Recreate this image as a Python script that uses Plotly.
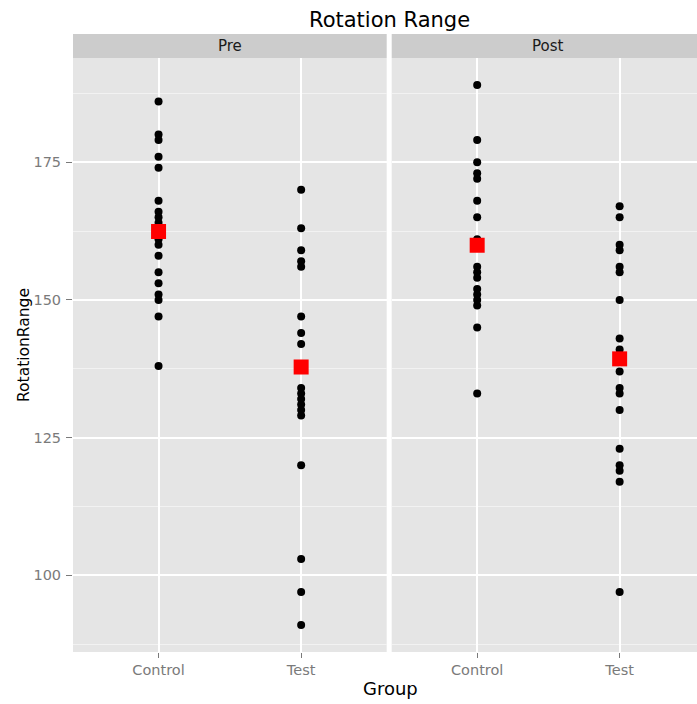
import plotly.graph_objects as go

groups = ["Control", "Test"]

pre_control = [186, 180, 179, 176, 174, 168, 166, 165, 164, 161, 160, 158, 155, 153, 151, 150, 147, 138]
pre_test = [170, 163, 159, 157, 156, 147, 144, 142, 134, 133, 132, 131, 130, 129, 120, 103, 97, 91]
post_control = [189, 179, 175, 173, 172, 168, 165, 161, 156, 155, 154, 152, 151, 150, 149, 145, 133]
post_test = [167, 165, 160, 159, 156, 155, 150, 143, 141, 137, 134, 133, 130, 123, 120, 119, 117, 97]

pre_means = [162.4, 137.8]
post_means = [159.9, 139.3]

FONT = "DejaVu Sans"
GREY = "#7a7a7a"

fig = go.Figure()

def add_panel(ctrl, test, means, xa, ya):
    fig.add_trace(go.Scatter(
        x=["Control"] * len(ctrl) + ["Test"] * len(test), y=ctrl + test,
        mode="markers", marker=dict(color="black", size=8, line=dict(width=0)),
        xaxis=xa, yaxis=ya, showlegend=False, hoverinfo="y"))
    fig.add_trace(go.Scatter(
        x=groups, y=means, mode="markers",
        marker=dict(color="#ff0000", size=15, symbol="square", line=dict(width=0)),
        xaxis=xa, yaxis=ya, showlegend=False, hoverinfo="y"))

add_panel(pre_control, pre_test, pre_means, "x", "y")
add_panel(post_control, post_test, post_means, "x2", "y2")

W = 624.0
L = 73.0
def px(v):
    return (v - L) / W

PH = 618.0
def py(v):
    return (652.0 - v) / PH

ydom = [0, py(58)]
xcommon = dict(type="category", categoryorder="array", categoryarray=groups,
               showgrid=True, gridcolor="white", gridwidth=1.8, zeroline=False,
               ticks="outside", ticklen=5, tickcolor=GREY, tickwidth=1,
               tickfont=dict(family=FONT, size=14.5, color=GREY), showline=False)
ycommon = dict(range=[86.1, 193.9], tickvals=[100, 125, 150, 175],
               showgrid=True, gridcolor="white", gridwidth=1.8, zeroline=False,
               minor=dict(tickvals=[87.5, 112.5, 137.5, 162.5, 187.5], showgrid=True,
                          gridcolor="#f2f2f2", gridwidth=0.8, ticks=""),
               showline=False, domain=ydom)

fig.update_layout(
    width=697, height=704,
    margin=dict(l=73, r=0, t=34, b=52),
    paper_bgcolor="white", plot_bgcolor="#e5e5e5",
    xaxis=dict(domain=[0, px(386.7)], range=[-0.6, 1.6], anchor="y", **xcommon),
    xaxis2=dict(domain=[px(391.7), 1], range=[-0.6, 1.543], anchor="y2", **xcommon),
    yaxis=dict(anchor="x", ticks="outside", ticklen=6, tickcolor=GREY, tickwidth=1,
               tickfont=dict(family=FONT, size=14.5, color=GREY), ticklabelstandoff=2, **ycommon),
    yaxis2=dict(anchor="x2", matches="y", showticklabels=False, ticks="", **ycommon),
)

# facet strips
fig.add_shape(type="rect", xref="paper", yref="paper", x0=0, x1=px(386.7), y0=py(58), y1=1,
              fillcolor="#cccccc", line=dict(width=0), layer="below")
fig.add_shape(type="rect", xref="paper", yref="paper", x0=px(391.7), x1=1, y0=py(58), y1=1,
              fillcolor="#cccccc", line=dict(width=0), layer="below")

ann = [
    dict(text="Pre", x=px(230), y=py(46), size=15, color="#1a1a1a"),
    dict(text="Post", x=px(548.4), y=py(46), size=15, color="#1a1a1a"),
    dict(text="Rotation Range", x=px(389), y=py(20), size=21, color="black"),
    dict(text="Group", x=px(390), y=py(689), size=18, color="black"),
]
for a in ann:
    fig.add_annotation(text=a["text"], xref="paper", yref="paper", x=a["x"], y=a["y"],
                       xanchor="center", yanchor="middle", showarrow=False,
                       font=dict(family=FONT, size=a["size"], color=a["color"]))

fig.add_annotation(text="RotationRange", xref="paper", yref="paper", x=px(24), y=py(345),
                   xanchor="center", yanchor="middle", showarrow=False, textangle=-90,
                   font=dict(family=FONT, size=15.5, color="black"))

fig.write_html("out.html")
